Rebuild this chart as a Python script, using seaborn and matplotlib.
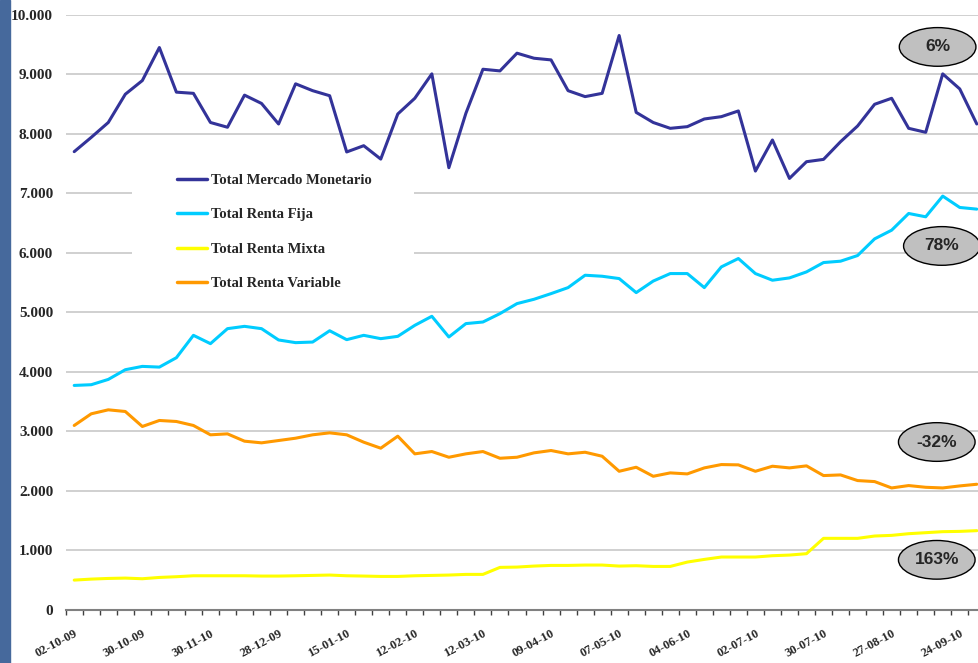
import numpy as np
import pandas as pd
import matplotlib
matplotlib.use("Agg")
import matplotlib.pyplot as plt
import seaborn as sns
from matplotlib.patches import Ellipse, Rectangle
from matplotlib.ticker import FixedLocator

# Weekly values (54 weeks)
monetario = [7700, 7940, 8190, 8665, 8895, 9450, 8700, 8680, 8190, 8110,
             8650, 8510, 8165, 8840, 8725, 8640, 7695, 7800, 7575, 8333,
             8597, 9007, 7430, 8345, 9085, 9057, 9355, 9270, 9242, 8725,
             8625, 8680, 9652, 8360, 8190, 8092, 8120, 8249, 8288, 8384,
             7374, 7896, 7250, 7531, 7570, 7867, 8131, 8496, 8597, 8092,
             8025, 9007, 8754, 8165]
fija = [3771, 3783, 3872, 4035, 4091, 4079, 4237, 4613, 4473, 4725,
        4764, 4725, 4535, 4490, 4500, 4690, 4540, 4613, 4557, 4596,
        4781, 4933, 4585, 4810, 4837, 4978, 5146, 5219, 5314, 5415,
        5623, 5606, 5567, 5331, 5525, 5651, 5651, 5415, 5763, 5904,
        5651, 5539, 5578, 5679, 5836, 5859, 5954, 6234, 6380, 6661,
        6605, 6953, 6762, 6734]
mixta = [499, 516, 527, 533, 522, 544, 556, 572, 572, 572,
         572, 567, 567, 572, 578, 584, 572, 567, 561, 561,
         572, 578, 584, 595, 595, 713, 718, 735, 746, 746,
         752, 752, 735, 741, 729, 729, 802, 847, 887, 887,
         887, 909, 920, 943, 1201, 1201, 1201, 1240, 1251, 1279,
         1296, 1313, 1318, 1330]
variable = [3098, 3294, 3361, 3333, 3081, 3182, 3165, 3098, 2941, 2957,
            2834, 2806, 2845, 2884, 2941, 2974, 2941, 2817, 2716, 2918,
            2621, 2660, 2564, 2621, 2660, 2547, 2564, 2638, 2677, 2621,
            2648, 2581, 2328, 2396, 2244, 2301, 2284, 2385, 2441, 2436,
            2328, 2413, 2385, 2419, 2256, 2267, 2172, 2155, 2048, 2088,
            2059, 2048, 2082, 2110]

series_names = ["Total Mercado Monetario", "Total Renta Fija",
                "Total Renta Mixta", "Total Renta Variable"]
series_colors = ["#333399", "#00CCFF", "#FFFF00", "#FF9900"]

tick_labels = ["02-10-09", "30-10-09", "30-11-10", "28-12-09", "15-01-10",
               "12-02-10", "12-03-10", "09-04-10", "07-05-10", "04-06-10",
               "02-07-10", "30-07-10", "27-08-10", "24-09-10"]
tick_step = 4

# percentage change bubbles: label, x (week), y
pct_labels = ["6%", "78%", "-32%", "163%"]
pct_x = [50.7, 50.95, 50.65, 50.65]
pct_y = [9460, 6115, 2820, 840]

# long-form table for seaborn
weeks = np.arange(len(monetario))
df = pd.concat([
    pd.DataFrame({"week": weeks, "value": vals, "serie": name})
    for name, vals in zip(series_names, [monetario, fija, mixta, variable])
])

sns.set_style("white")
plt.rcParams["font.family"] = ["Liberation Serif", "DejaVu Serif"]
plt.rcParams["font.weight"] = "bold"

W, H = 979, 663
fig = plt.figure(figsize=(W / 100, H / 100), dpi=100)
ax = fig.add_axes([65.7 / W, 1 - 609.8 / H, (W - 65.7) / W, (609.8 - 14.8) / H])

# blue strip of the slide background on the left edge
fig.add_artist(Rectangle((0, 0), 10 / W, 1, transform=fig.transFigure,
                         color="#46699c", zorder=0))

sns.lineplot(data=df, x="week", y="value", hue="serie", hue_order=series_names,
             palette=dict(zip(series_names, series_colors)), linewidth=2.2,
             ax=ax, legend=True)

ax.set_xlim(-0.5, 53.13)
ax.set_ylim(0, 10000)
ax.set_xlabel("")
ax.set_ylabel("")

# y axis
yt = np.arange(0, 10001, 1000)
ax.set_yticks(yt)
ax.set_yticklabels([f"{v:,}".replace(",", ".") for v in yt], fontsize=11,
                   fontweight="bold")
ax.tick_params(axis="y", length=0, pad=9)
ax.yaxis.grid(True, color="#c8c8c8", linewidth=1.2)
ax.set_axisbelow(True)

# x axis: labels every 4 weeks, tick marks between categories
ax.set_xticks(weeks[::tick_step][:len(tick_labels)])
ax.set_xticklabels(tick_labels, fontsize=9, fontweight="bold", rotation=28,
                   ha="right", va="top", rotation_mode="anchor")
ax.xaxis.set_minor_locator(FixedLocator(np.arange(-0.5, 54, 1)))
ax.tick_params(axis="x", which="major", length=0, pad=13)
ax.tick_params(axis="x", which="minor", length=3.6, width=1, color="#404040",
               direction="out", bottom=True)

for s in ["left", "right", "top"]:
    ax.spines[s].set_visible(False)
ax.spines["bottom"].set_color("#808080")
ax.spines["bottom"].set_linewidth(1.5)

# legend: white box that hides the gridlines behind it, lines stay on top
ax.add_patch(Rectangle((132 / W, 1 - 305 / H), 282 / W, 145 / H,
                       transform=fig.transFigure, facecolor="white",
                       edgecolor="none", zorder=1))
handles, labels = ax.get_legend_handles_labels()
leg = ax.legend(handles, labels, loc="upper left",
                bbox_to_anchor=(152 / W, 1 - 149 / H), bbox_transform=fig.transFigure,
                frameon=False, borderpad=1.2, labelspacing=1.45,
                handlelength=2.1, handletextpad=0.23,
                prop={"family": "Liberation Serif", "weight": "bold", "size": 10.5})
for line in leg.get_lines():
    line.set_linewidth(2.5)

# percentage bubbles
for lab, x, y in zip(pct_labels, pct_x, pct_y):
    ax.add_patch(Ellipse((x, y), 4.5, 650, facecolor="#c0c0c0", edgecolor="black",
                         linewidth=1, zorder=5, clip_on=False))
    ax.text(x, y, lab, ha="center", va="center", fontsize=12.5, fontweight="bold",
            family=["Liberation Sans", "DejaVu Sans"], zorder=6)

fig.savefig("out.png", dpi=100)
